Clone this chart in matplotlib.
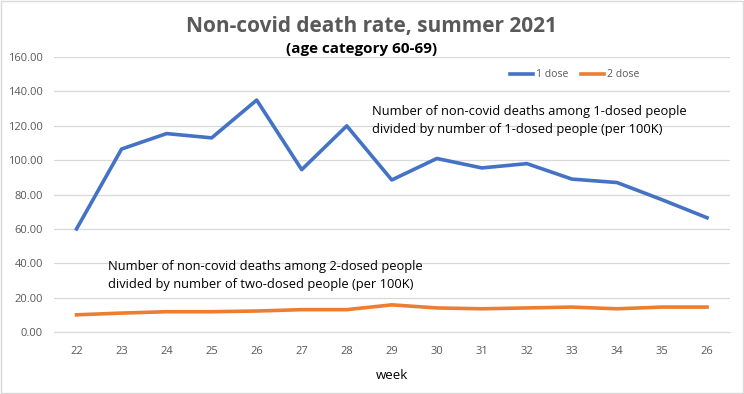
import matplotlib.pyplot as plt
from matplotlib.patches import Rectangle

weeks = ["22", "23", "24", "25", "26", "27", "28", "29", "30", "31", "32", "33", "34", "35", "26"]
dose1 = [60.0, 106.5, 115.5, 113.0, 135.0, 94.5, 120.0, 88.5, 101.0, 95.5, 98.0, 89.0, 87.0, 77.0, 66.5]
dose2 = [10.0, 11.0, 11.8, 11.8, 12.2, 13.0, 13.0, 15.8, 14.0, 13.5, 14.0, 14.5, 13.5, 14.5, 14.5]

plt.rcParams['font.family'] = ['Open Sans', 'DejaVu Sans']

fig = plt.figure(figsize=(7.44, 3.94), dpi=100)
ax = fig.add_axes([0.0726, 0.1574, 0.908, 0.6976])

x = range(len(weeks))
ax.plot(x, dose1, color="#4472C4", lw=2.6, label="1 dose", solid_joinstyle="round")
ax.plot(x, dose2, color="#ED7D31", lw=2.6, label="2 dose", solid_joinstyle="round")

ax.set_xlim(-0.5, len(weeks) - 0.5)
ax.set_ylim(0, 160)
ax.set_yticks(range(0, 161, 20))
ax.set_yticklabels([f"{v:.2f}" for v in range(0, 161, 20)])
ax.set_xticks(list(x))
ax.set_xticklabels(weeks)
ax.tick_params(length=0, labelsize=8, labelcolor="#595959", pad=8)
ax.tick_params(axis="x", pad=10)
ax.grid(axis="y", color="#D9D9D9", lw=0.9)
ax.set_axisbelow(True)
for s in ["top", "right", "left"]:
    ax.spines[s].set_visible(False)
ax.spines["bottom"].set_color("#D9D9D9")

ax.set_xlabel("week", fontsize=9.5, color="black", labelpad=9)

fig.text(0.4993, 0.934, "Non-covid death rate, summer 2021", ha="center", va="center",
         fontsize=15, fontweight="bold", color="#595959")
fig.text(0.486, 0.876, "(age category 60-69)", ha="center", va="center",
         fontsize=11, fontweight="bold", color="black")

ax.legend(loc="upper right", bbox_to_anchor=(0.88, 0.99), ncol=2, frameon=False,
          fontsize=7.5, labelcolor="#595959", handlelength=2.2, handletextpad=0.3,
          columnspacing=1.2)

ax.text(0.4705, 0.768, "Number of non-covid deaths among 1-dosed people\n"
        "divided by number of 1-dosed people (per 100K)",
        transform=ax.transAxes, fontsize=9.3, va="center", linespacing=1.5)
ax.text(0.08, 0.205, "Number of non-covid deaths among 2-dosed people\n"
        "divided by number of two-dosed people (per 100K)",
        transform=ax.transAxes, fontsize=9.3, va="center", linespacing=1.5)

fig.patches.append(Rectangle((0.002, 0.003), 0.996, 0.994, transform=fig.transFigure,
                             fill=False, edgecolor="#D9D9D9", lw=1))

fig.savefig("out.png", dpi=100)
